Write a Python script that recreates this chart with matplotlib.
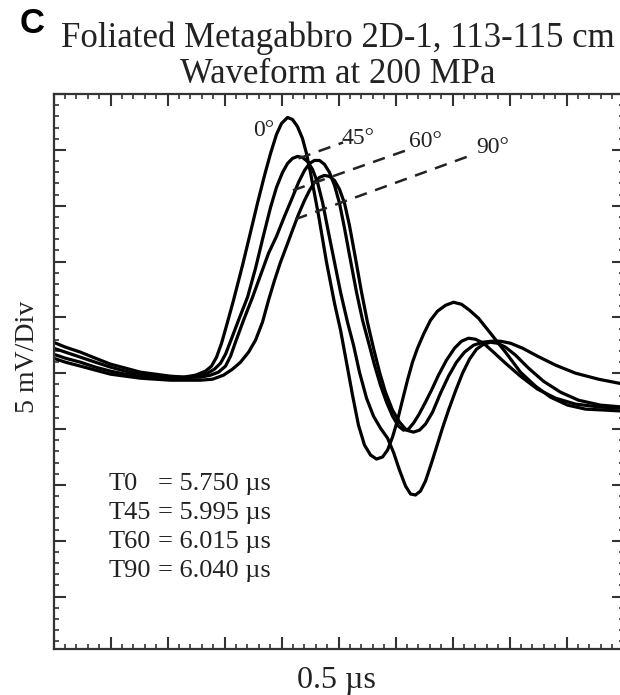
import numpy as np
import matplotlib
matplotlib.use("Agg")
import matplotlib.pyplot as plt
from matplotlib.ticker import MultipleLocator, NullFormatter

plt.rcParams['font.family'] = ['Liberation Serif', 'DejaVu Serif']

# time in microseconds (0.5 us / div), amplitude in mV (5 mV / div)
t0 = [0, .105, .237, .368, .5, .632, .763, .895, 1.026, 1.14, 1.246, 1.333, 1.386, 1.43, 1.474, 1.526,
      1.579, 1.658, 1.728, 1.789, 1.851, 1.904, 1.956, 2.0, 2.053, 2.096, 2.14, 2.184, 2.219, 2.254,
      2.325, 2.395, 2.465, 2.518, 2.57, 2.623, 2.675, 2.728, 2.781, 2.833, 2.886, 2.93, 2.974, 3.018,
      3.061, 3.105, 3.149, 3.193, 3.246, 3.307, 3.368, 3.439, 3.509, 3.579, 3.649, 3.728, 3.833, 3.965,
      4.096, 4.228, 4.36, 4.509, 4.667, 4.842, 5.0]
a0 = [2.24, 1.88, 1.43, 0.98, 0.54, 0.18, -0.09, -0.27, -0.36, -0.36, -0.18, 0.18, 0.63, 1.43, 2.68, 4.56,
      6.53, 9.66, 12.61, 15.21, 17.71, 19.68, 21.38, 22.36, 22.90, 22.72, 22.09, 21.02, 19.68, 17.98,
      14.13, 9.93, 6.26, 3.85, 0.98, -1.97, -4.65, -6.44, -7.33, -7.69, -7.51, -6.89, -5.72, -4.20,
      -2.42, -0.63, 0.98, 2.24, 3.49, 4.74, 5.55, 6.08, 6.35, 6.17, 5.64, 4.92, 3.58, 1.88,
      0.09, -1.16, -2.15, -2.86, -3.22, -3.31, -3.40]

t45 = [0, .105, .237, .368, .5, .632, .763, .895, 1.026, 1.158, 1.272, 1.351, 1.412, 1.465, 1.509, 1.553,
       1.623, 1.702, 1.772, 1.842, 1.904, 1.956, 2.009, 2.053, 2.096, 2.14, 2.184, 2.228, 2.272, 2.316,
       2.36, 2.412, 2.465, 2.518, 2.579, 2.632, 2.684, 2.746, 2.807, 2.868, 2.93, 2.982, 3.035, 3.088,
       3.132, 3.175, 3.219, 3.263, 3.307, 3.36, 3.412, 3.465, 3.526, 3.588, 3.649, 3.711, 3.772, 3.833,
       3.895, 3.965, 4.053, 4.167, 4.298, 4.447, 4.605, 4.798, 5.0]
a45 = [1.70, 1.34, .98, .54, .18, -.09, -.27, -.36, -.45, -.45, -.27, 0, .36, .89, 1.70, 2.86,
       4.74, 6.80, 9.39, 12.34, 14.85, 16.64, 17.98, 18.78, 19.23, 19.41, 19.32, 18.96, 18.25, 17.08,
       15.30, 12.61, 9.93, 7.25, 4.56, 2.50, .09, -2.24, -3.85, -4.92, -5.81, -7.07, -8.68, -10.11,
       -10.82, -10.91, -10.56, -9.66, -8.32, -6.62, -4.92, -3.31, -1.61, 0, 1.25, 2.15, 2.59, 2.77,
       2.68, 2.33, 1.61, .45, -.72, -1.70, -2.42, -2.86, -3.04]

t60 = [0, .105, .237, .368, .5, .632, .763, .895, 1.026, 1.158, 1.289, 1.377, 1.447, 1.509, 1.553, 1.596,
       1.667, 1.746, 1.816, 1.886, 1.956, 2.026, 2.096, 2.149, 2.202, 2.246, 2.289, 2.333, 2.377, 2.421,
       2.465, 2.509, 2.553, 2.605, 2.658, 2.711, 2.763, 2.816, 2.868, 2.921, 2.974, 3.026, 3.070, 3.114,
       3.158, 3.202, 3.254, 3.316, 3.377, 3.447, 3.518, 3.579, 3.640, 3.702, 3.772, 3.860, 3.965, 4.096,
       4.246, 4.404, 4.579, 4.798, 5.0]
a60 = [2.77, 2.33, 1.88, 1.34, .81, .45, .09, -.09, -.27, -.36, -.36, -.18, .09, .63, 1.52, 2.77,
       4.74, 6.80, 8.77, 10.73, 12.25, 14.04, 15.74, 17.08, 18.16, 18.78, 19.05, 19.05, 18.70, 17.98,
       16.82, 15.21, 12.97, 10.11, 7.25, 4.74, 2.77, .72, -1.07, -2.59, -3.85, -4.74, -5.10, -5.01,
       -4.47, -3.76, -2.77, -1.52, -.18, 1.16, 2.24, 2.86, 3.13, 3.04, 2.68, 1.88, .89, -.27,
       -1.43, -2.24, -2.77, -3.04, -3.13]

t90 = [0, .105, .237, .368, .5, .632, .763, .895, 1.026, 1.158, 1.289, 1.395, 1.491, 1.570, 1.640, 1.711,
       1.772, 1.833, 1.886, 1.939, 1.991, 2.044, 2.096, 2.149, 2.202, 2.246, 2.289, 2.333, 2.377, 2.421,
       2.465, 2.509, 2.553, 2.596, 2.649, 2.702, 2.754, 2.807, 2.860, 2.912, 2.974, 3.035, 3.096, 3.158,
       3.211, 3.263, 3.325, 3.395, 3.465, 3.535, 3.605, 3.684, 3.763, 3.842, 3.921, 4.009, 4.114, 4.246,
       4.404, 4.579, 4.781, 5.0]
a90 = [1.34, .98, .63, .27, -.09, -.27, -.45, -.54, -.63, -.63, -.63, -.54, -.18, .36, .98, 1.88,
       2.95, 4.56, 6.53, 8.32, 9.93, 11.36, 12.79, 14.22, 15.47, 16.37, 17.08, 17.53, 17.71, 17.62,
       17.26, 16.46, 15.21, 13.24, 10.29, 7.25, 4.56, 2.24, .09, -1.70, -3.31, -4.38, -5.10, -5.28,
       -5.10, -4.56, -3.49, -1.79, -.27, .98, 1.88, 2.50, 2.77, 2.86, 2.86, 2.68, 2.24, 1.52,
       .72, 0, -.54, -.98]

angles = ['0°', '45°', '60°', '90°']
picks = ['5.750', '5.995', '6.015', '6.040']
names = ['T0', 'T45', 'T60', 'T90']

# dashed leader lines (start/end time, start/end amplitude) and angle label positions
lead_t = [(2.15, 2.54), (2.10, 3.09), (2.12, 3.66)]
lead_a = [(19.23, 20.66), (16.37, 19.94), (13.78, 19.50)]
lab_t = [1.84, 2.675, 3.263, 3.851]
lab_a = [21.74, 21.02, 20.75, 20.22]

fig = plt.figure(figsize=(6.2, 6.95), dpi=100)
ax = fig.add_axes([53.5 / 620, 46 / 695, 570 / 620, 555 / 695])

for t, a in zip([t0, t45, t60, t90], [a0, a45, a60, a90]):
    ax.plot(t, a, color='black', lw=2.3, solid_joinstyle='round', solid_capstyle='round')

for lt, la in zip(lead_t, lead_a):
    ax.plot(lt, la, color='#222222', lw=1.8, dashes=(5, 3.5))

for lab, x, y in zip(angles, lab_t, lab_a):
    ax.text(x, y, lab, fontsize=17, ha='center', va='center', color='#222222')

ys = [-10.47, -13.06, -15.65, -18.25]
for nm, p, y in zip(names, picks, ys):
    ax.text(0.482, y, nm, fontsize=19, color='#222222', va='baseline')
    ax.text(0.92, y, '= ' + p + ' µs', fontsize=19, color='#222222', va='baseline')

ax.set_xlim(0, 5)
ax.set_ylim(-24.7, 25)
ax.xaxis.set_major_locator(MultipleLocator(0.5))
ax.xaxis.set_minor_locator(MultipleLocator(0.1))
ax.yaxis.set_major_locator(MultipleLocator(5))
ax.yaxis.set_minor_locator(MultipleLocator(1))
ax.xaxis.set_major_formatter(NullFormatter())
ax.yaxis.set_major_formatter(NullFormatter())
ax.tick_params(which='both', direction='in', top=True, right=True, color='#333333')
ax.tick_params(which='major', length=8.5, width=1.5)
ax.tick_params(which='minor', length=3.5, width=1.2)
for s in ax.spines.values():
    s.set_linewidth(1.6)
    s.set_color('#333333')

fig.text(20 / 620, 1 - 33 / 695, 'C', fontsize=25, fontweight='bold',
         family='Liberation Sans', va='baseline', ha='left')
fig.text(338 / 620, 1 - 47 / 695, 'Foliated Metagabbro 2D-1, 113-115 cm', fontsize=25,
         ha='center', va='baseline', color='#222222')
fig.text(338 / 620, 1 - 83 / 695, 'Waveform at 200 MPa', fontsize=25,
         ha='center', va='baseline', color='#222222')
fig.text(336 / 620, 1 - 688 / 695, '0.5 µs', fontsize=23, ha='center', va='baseline', color='#222222')
fig.text(27 / 620, 1 - 357 / 695, '5 mV/Div', fontsize=20, rotation=90, ha='center', va='center',
         color='#222222')

fig.savefig('out.png', dpi=100)
